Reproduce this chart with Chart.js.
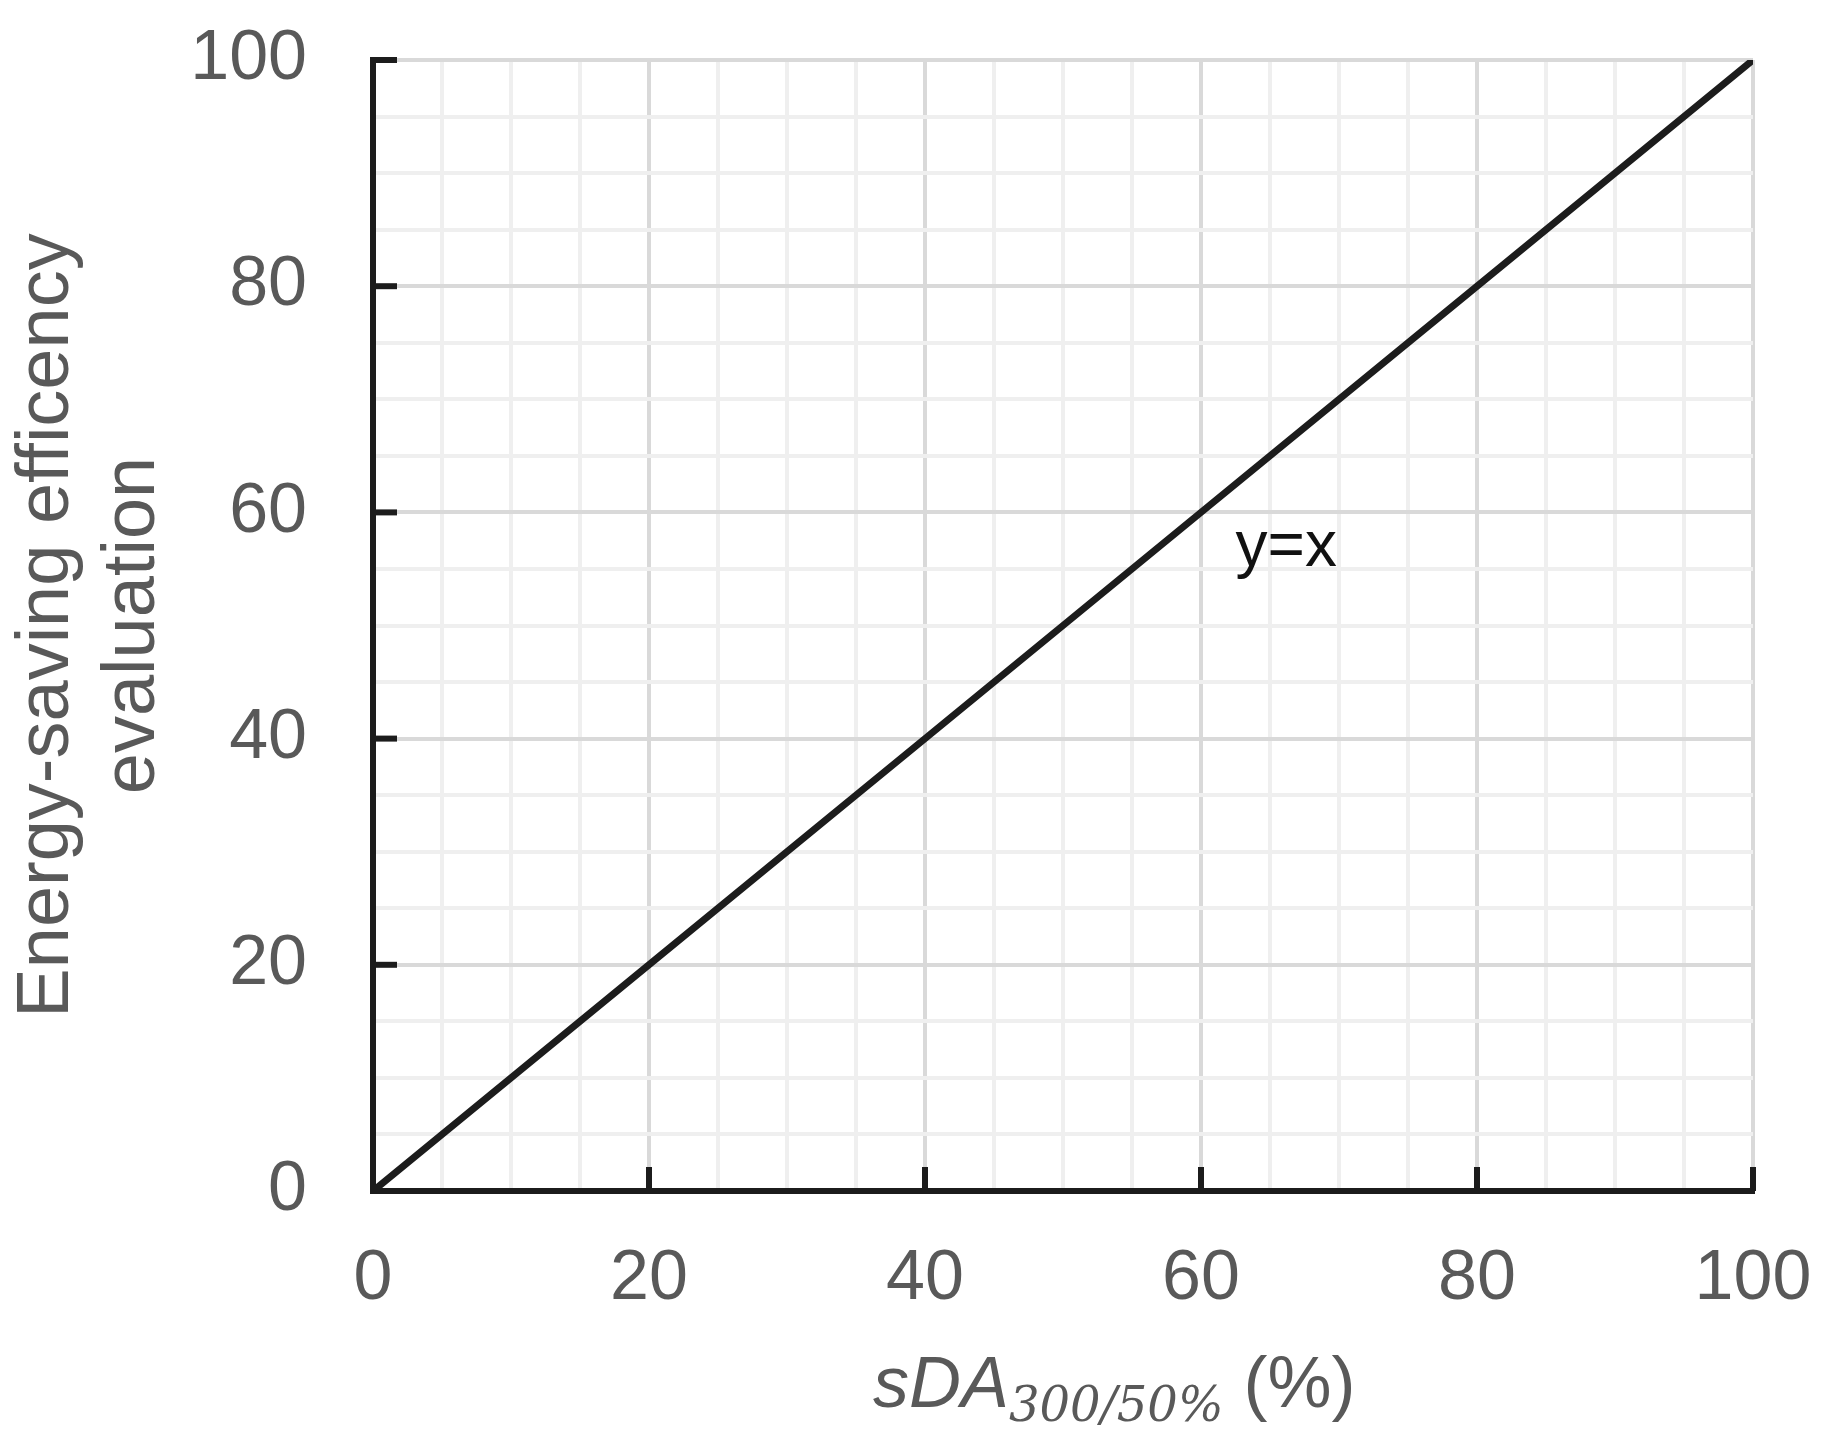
<!DOCTYPE html>
<html>
<head>
<meta charset="utf-8">
<script src="https://cdn.jsdelivr.net/npm/chart.js@4/dist/chart.umd.min.js"></script>
<style>
  body { margin: 0; background: #fff; }
  canvas { display: block; }
</style>
</head>
<body>
<canvas id="lineCanvas" width="1833" height="1451"></canvas>
<script>
// values
let sdaValues = [0, 20, 40, 60, 80, 100];
let efficiencyValues = [0, 20, 40, 60, 80, 100];
let majorTicks = [0, 20, 40, 60, 80, 100];
let lineLabel = 'y=x';
let labelAt = [62.5, 55.3];

let grey = '#595959';
let ink = '#1c1c1c';

// inward tick marks, the y=x note and the x title (it has a subscript)
let innerTicks = {
    id: 'innerTicks',
    afterDraw: function (chart) {
        let ctx = chart.ctx;
        let x = chart.scales.x, y = chart.scales.y;
        let area = chart.chartArea;
        ctx.save();
        ctx.strokeStyle = ink;
        ctx.lineWidth = 6;
        majorTicks.forEach(function (v) {
            let px = x.getPixelForValue(v);
            ctx.beginPath();
            ctx.moveTo(px, area.bottom);
            ctx.lineTo(px, area.bottom - 24);
            ctx.stroke();
            let py = y.getPixelForValue(v);
            ctx.beginPath();
            ctx.moveTo(area.left, py);
            ctx.lineTo(area.left + 24, py);
            ctx.stroke();
        });

        ctx.fillStyle = '#111';
        ctx.font = '64px "Liberation Sans", Arial, sans-serif';
        ctx.textBaseline = 'alphabetic';
        ctx.textAlign = 'left';
        ctx.fillText(lineLabel, x.getPixelForValue(labelAt[0]), y.getPixelForValue(labelAt[1]));

        let parts = [
            { t: 'sDA', f: 'italic 72px "Liberation Sans", Arial, sans-serif', dy: 0 },
            { t: '300/50%', f: 'italic 48px "DejaVu Serif", serif', dy: 14 },
            { t: ' (%)', f: '72px "Liberation Sans", Arial, sans-serif', dy: 0 }
        ];
        let bx = area.left + 500;
        let by = area.bottom + 216;
        ctx.fillStyle = grey;
        parts.forEach(function (p) {
            ctx.font = p.f;
            ctx.fillText(p.t, bx, by + p.dy);
            bx += ctx.measureText(p.t).width;
        });
        ctx.restore();
    }
};

let gridColor = function (c) {
    return c.tick && c.tick.value % 20 === 0 ? '#d9d9d9' : '#efefef';
};

let tickFont = { family: '"Liberation Sans", Arial, sans-serif', size: 70 };

let lineDraw = function () {
    let ctx = document.getElementById('lineCanvas').getContext('2d');
    window.lineChart = new Chart(ctx, {
        type: 'line',
        data: {
            datasets: [{
                data: sdaValues.map(function (v, i) { return { x: v, y: efficiencyValues[i] }; }),
                borderColor: ink,
                borderWidth: 7,
                pointRadius: 0,
                tension: 0,
                fill: false
            }]
        },
        options: {
            responsive: false,
            animation: false,
            devicePixelRatio: 1,
            layout: { padding: { left: 0, top: 60, right: 80, bottom: 129 } },
            plugins: { legend: { display: false }, tooltip: { enabled: false } },
            scales: {
                x: {
                    type: 'linear',
                    min: 0, max: 100,
                    afterFit: function (s) { s.height = 131; s.paddingLeft = 0; s.paddingRight = 0; },
                    grid: { color: gridColor, lineWidth: 4, drawTicks: false },
                    border: { color: ink, width: 6 },
                    ticks: {
                        stepSize: 5, autoSkip: false, maxRotation: 0,
                        padding: 47, color: grey, font: tickFont,
                        callback: function (v) { return v % 20 === 0 ? v : ''; }
                    }
                },
                y: {
                    min: 0, max: 100,
                    afterFit: function (s) { s.width = 373; s.paddingTop = 0; s.paddingBottom = 0; },
                    grid: { color: gridColor, lineWidth: 4, drawTicks: false },
                    border: { color: ink, width: 6 },
                    ticks: {
                        stepSize: 5, autoSkip: false,
                        padding: 66, color: grey, font: tickFont,
                        callback: function (v) { return v % 20 === 0 ? v : ''; }
                    },
                    title: {
                        display: true,
                        text: ['Energy-saving efficency', 'evaluation'],
                        color: grey,
                        font: { family: '"Liberation Sans", Arial, sans-serif', size: 74, lineHeight: 1.16 },
                        padding: { top: 5, bottom: 15 }
                    }
                }
            }
        },
        plugins: [innerTicks]
    });
};

window.onload = function () {
    lineDraw();
};
</script>
</body>
</html>
